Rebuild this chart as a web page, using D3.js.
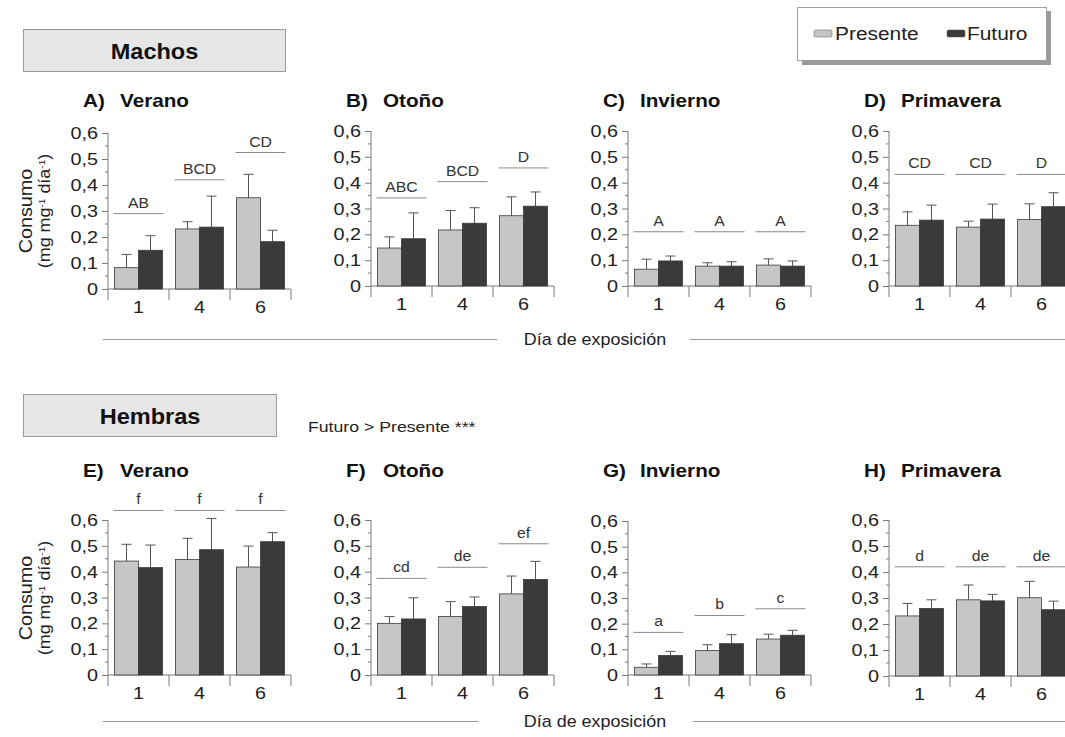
<!DOCTYPE html>
<html>
<head>
<meta charset="utf-8">
<script src="https://cdn.jsdelivr.net/npm/d3@7/dist/d3.min.js"></script>
<style>
  html, body { margin: 0; padding: 0; background: #fff; }
  svg { display: block; font-family: "Liberation Sans", Arial, sans-serif; }
</style>
</head>
<body>
<svg id="chart" width="1065" height="737"></svg>
<script>
// ---- Data ---------------------------------------------------------------
const days = ["1", "4", "6"];
const panelLetters = ["A)", "B)", "C)", "D)", "E)", "F)", "G)", "H)"];
const seasons = ["Verano", "Otoño", "Invierno", "Primavera", "Verano", "Otoño", "Invierno", "Primavera"];
const yTicks = [0, 0.1, 0.2, 0.3, 0.4, 0.5, 0.6];

// mean consumption (mg mg-1 día-1), one row per panel, columns = day 1, 4, 6
const presente = [
  [0.082, 0.231, 0.351],
  [0.147, 0.217, 0.272],
  [0.065, 0.077, 0.081],
  [0.235, 0.228, 0.257],
  [0.441, 0.447, 0.418],
  [0.200, 0.226, 0.314],
  [0.030, 0.095, 0.140],
  [0.231, 0.293, 0.301]
];
const futuro = [
  [0.149, 0.238, 0.182],
  [0.183, 0.243, 0.309],
  [0.097, 0.077, 0.077],
  [0.255, 0.259, 0.307],
  [0.416, 0.485, 0.516],
  [0.217, 0.265, 0.370],
  [0.076, 0.122, 0.155],
  [0.260, 0.289, 0.255]
];
// standard errors
const presenteErr = [
  [0.051, 0.028, 0.090],
  [0.043, 0.075, 0.073],
  [0.039, 0.013, 0.024],
  [0.052, 0.023, 0.061],
  [0.065, 0.082, 0.081],
  [0.026, 0.058, 0.069],
  [0.013, 0.023, 0.019],
  [0.048, 0.057, 0.063]
];
const futuroErr = [
  [0.056, 0.119, 0.044],
  [0.100, 0.060, 0.055],
  [0.019, 0.017, 0.020],
  [0.058, 0.058, 0.054],
  [0.087, 0.121, 0.035],
  [0.082, 0.037, 0.070],
  [0.016, 0.035, 0.019],
  [0.033, 0.025, 0.033]
];
// post-hoc groups and the level of the bracket line drawn under each
const groupLabels = [
  ["AB", "BCD", "CD"],
  ["ABC", "BCD", "D"],
  ["A", "A", "A"],
  ["CD", "CD", "D"],
  ["f", "f", "f"],
  ["cd", "de", "ef"],
  ["a", "b", "c"],
  ["d", "de", "de"]
];
const groupLevels = [
  [0.290, 0.420, 0.525],
  [0.341, 0.404, 0.457],
  [0.210, 0.210, 0.210],
  [0.432, 0.432, 0.432],
  [0.637, 0.637, 0.637],
  [0.374, 0.417, 0.508],
  [0.166, 0.232, 0.258],
  [0.420, 0.420, 0.420]
];
const seriesNames = ["Presente", "Futuro"];

// ---- Layout -------------------------------------------------------------
const colors = { Presente: "#c6c6c6", Futuro: "#3a3a3a" };
const axisColor = "#7a7a7a";
const textColor = "#222";
const panelX = [108, 371, 628, 889, 108, 371, 628, 889];
const panelTop = [133, 131, 131, 131, 520, 520, 521, 520];
const panelZero = [289, 286, 286, 286, 675, 675, 675, 676];
const plotW = 183;

const svg = d3.select("#chart");

// text with a horizontal widening factor (the figure uses a wide sans face)
function label(parent, x, y, str, opt = {}) {
  const g = parent.append("g")
    .attr("transform", `translate(${x},${y}) rotate(${opt.rotate || 0}) scale(${opt.sx || 1},1)`);
  const t = g.append("text")
    .attr("text-anchor", opt.anchor || "start")
    .attr("font-size", opt.size || 14)
    .attr("font-weight", opt.weight || "normal")
    .attr("fill", opt.fill || textColor);
  if (str !== null) t.text(str);
  return t;
}

// ---- Section headers ----------------------------------------------------
function header(x, y, w, h, txt) {
  svg.append("rect").attr("x", x).attr("y", y).attr("width", w).attr("height", h)
    .attr("fill", "#e6e6e6").attr("stroke", "#9a9a9a").attr("stroke-width", 1);
  label(svg, x + w / 2, y + h / 2 + 8, txt, { anchor: "middle", size: 22, weight: "bold", sx: 1.07, fill: "#111" });
}
header(23.5, 29.5, 262, 42, "Machos");
header(23.5, 394.5, 253, 42, "Hembras");

label(svg, 308, 432, "Futuro > Presente ***", { size: 14.5, sx: 1.22 });

// ---- Legend -------------------------------------------------------------
svg.append("rect").attr("x", 802).attr("y", 11).attr("width", 249).attr("height", 54)
  .attr("fill", "#9a9a9a");
svg.append("rect").attr("x", 797.5).attr("y", 7.5).attr("width", 249).attr("height", 53)
  .attr("fill", "#fff").attr("stroke", "#a0a0a0");
const legendItems = [{ x: 814, tx: 835 }, { x: 947, tx: 967 }];
seriesNames.forEach((s, i) => {
  svg.append("rect").attr("x", legendItems[i].x).attr("y", 30).attr("width", 18).attr("height", 7)
    .attr("rx", 1.5).attr("fill", colors[s]).attr("stroke", "#555").attr("stroke-width", 0.5);
  label(svg, legendItems[i].tx, 40, s, { size: 18.5, sx: 1.13 });
});

// ---- Panels -------------------------------------------------------------
panelLetters.forEach((letter, p) => {
  const x0 = panelX[p];
  const y = d3.scaleLinear().domain([0, 0.6]).range([panelZero[p], panelTop[p]]);
  const x = d3.scaleBand().domain(days).range([x0, x0 + plotW]).paddingInner(0).paddingOuter(0);
  const xs = d3.scaleBand().domain(seriesNames).range([0, 48]);
  const g = svg.append("g");

  // title
  const titleY = p < 4 ? 106.5 : 476.5;
  label(g, x0 - 25, titleY, letter, { size: 18, weight: "bold", sx: 1.15, fill: "#111" });
  label(g, x0 + 12, titleY, seasons[p], { size: 18, weight: "bold", sx: 1.15, fill: "#111" });

  // y axis: major ticks from d3.axisLeft, labels and minor ticks drawn alongside
  const yAxis = d3.axisLeft(y).tickValues(yTicks).tickSize(6).tickFormat("");
  const ya = g.append("g").attr("transform", `translate(${x0},0)`).call(yAxis);
  ya.select(".domain").remove();
  ya.selectAll(".tick line").attr("stroke", axisColor);
  const fmt = d => d === 0 ? "0" : d3.format(".1f")(d).replace(".", ",");
  yTicks.forEach(v => label(g, x0 - 10, y(v) + 6, fmt(v), { anchor: "end", size: 16.5, sx: 1.2 }));
  const minor = d3.range(0.05, 0.6, 0.1);
  g.selectAll(".minor").data(minor).join("line")
    .attr("x1", x0 - 3).attr("x2", x0).attr("y1", d => y(d)).attr("y2", d => y(d))
    .attr("stroke", axisColor);
  g.append("line").attr("x1", x0).attr("x2", x0)
    .attr("y1", y(0.6)).attr("y2", y(0) + 11).attr("stroke", axisColor);

  // x axis: baseline, band separators, labels
  g.append("line").attr("x1", x0).attr("x2", x0 + plotW)
    .attr("y1", y(0)).attr("y2", y(0)).attr("stroke", axisColor);
  days.forEach(d => {
    const bx = x(d) + x.bandwidth();
    g.append("line").attr("x1", bx).attr("x2", bx)
      .attr("y1", y(0)).attr("y2", y(0) + 11).attr("stroke", axisColor);
    label(g, x(d) + x.bandwidth() / 2, y(0) + 24, d, { anchor: "middle", size: 16.5, sx: 1.2 });
  });

  // bars + error bars
  days.forEach((d, i) => {
    const vals = [
      { s: "Presente", v: presente[p][i], e: presenteErr[p][i] },
      { s: "Futuro", v: futuro[p][i], e: futuroErr[p][i] }
    ];
    const gx = x(d) + (x.bandwidth() - 48) / 2;
    vals.forEach(b => {
      const bx = gx + xs(b.s);
      const cx = bx + xs.bandwidth() / 2;
      g.append("line").attr("x1", cx).attr("x2", cx)
        .attr("y1", y(b.v)).attr("y2", y(b.v + b.e)).attr("stroke", "#555");
      g.append("line").attr("x1", cx - 5).attr("x2", cx + 5)
        .attr("y1", y(b.v + b.e)).attr("y2", y(b.v + b.e)).attr("stroke", "#555");
      g.append("rect").attr("x", bx).attr("y", y(b.v))
        .attr("width", xs.bandwidth()).attr("height", y(0) - y(b.v))
        .attr("fill", colors[b.s]).attr("stroke", "#3a3a3a").attr("stroke-width", 0.8);
    });
    // significance group bracket and letters
    const cx = x(d) + x.bandwidth() / 2;
    const ly = y(groupLevels[p][i]);
    g.append("line").attr("x1", cx - 25).attr("x2", cx + 25)
      .attr("y1", ly).attr("y2", ly).attr("stroke", "#8a8a8a");
    label(g, cx, ly - 6, groupLabels[p][i], { anchor: "middle", size: 15, sx: 1.05, fill: "#333" });
  });
});

// ---- Y axis titles ------------------------------------------------------
function yTitle(cy) {
  label(svg, 32, cy, "Consumo", { anchor: "middle", size: 18, sx: 1.1, rotate: -90 });
  const t2 = label(svg, 50, cy, null, { anchor: "middle", size: 16, sx: 1.12, rotate: -90 });
  t2.append("tspan").text("(mg mg");
  t2.append("tspan").attr("baseline-shift", "super").attr("font-size", 9).text("-1");
  t2.append("tspan").text(" día");
  t2.append("tspan").attr("baseline-shift", "super").attr("font-size", 9).text("-1");
  t2.append("tspan").text(")");
}
yTitle(211);
yTitle(598);

// ---- Shared x axis titles ----------------------------------------------
function xTitle(cy, leftEnd, rightStart) {
  svg.append("line").attr("x1", 103).attr("x2", leftEnd).attr("y1", cy).attr("y2", cy)
    .attr("stroke", "#9a9a9a");
  svg.append("line").attr("x1", rightStart).attr("x2", 1065).attr("y1", cy).attr("y2", cy)
    .attr("stroke", "#9a9a9a");
  label(svg, 595, cy + 5, "Día de exposición", { anchor: "middle", size: 16, sx: 1.12 });
}
xTitle(339.5, 497, 690);
xTitle(721.5, 478, 693);
</script>
</body>
</html>
